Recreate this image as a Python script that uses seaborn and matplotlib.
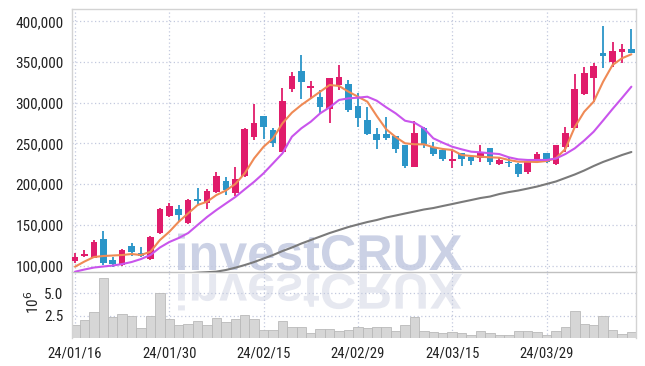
import numpy as np
import pandas as pd
import matplotlib
matplotlib.use("Agg")
import matplotlib.pyplot as plt
import seaborn as sns
from matplotlib import font_manager
from matplotlib.textpath import TextPath
from matplotlib.patches import PathPatch
from matplotlib.font_manager import FontProperties
from matplotlib.transforms import Affine2D

# ---------------- data ----------------
tick_labels = ["24/01/16", "24/01/30", "24/02/15", "24/02/29", "24/03/15", "24/03/29"]
tick_pos = [0, 10, 20, 30, 40, 50]

opens = [106000, 112200, 109700, 132700, 106900, 100800, 124100, 115100, 108100, 140400,
         161300, 169100, 151900, 180300, 176500, 190800, 203900, 188800, 210000, 258300,
         283700, 266500, 239900, 317200, 339000, 318500, 306700, 292000, 321800, 322600,
         296000, 278800, 261300, 261300, 259100, 248100, 221500, 269300, 246000, 241900,
         228500, 237900, 233800, 231800, 244800, 224400, 227600, 224800, 215300, 230900,
         237900, 225000, 245200, 269300, 310400, 330000, 360700, 349700, 362700, 366000]
highs = [115800, 119000, 131400, 142500, 110200, 120000, 127400, 123200, 136300, 170400,
         176500, 174400, 181400, 194900, 193700, 215300, 208400, 221500, 268600, 298400,
         284000, 268600, 318500, 338100, 358600, 326700, 315600, 330000, 346300, 327900,
         312300, 295100, 268600, 282000, 259100, 248100, 277900, 270600, 252100, 242800,
         242800, 238600, 234600, 248100, 244800, 231800, 231800, 225600, 229700, 239900,
         238600, 248100, 270600, 334900, 344300, 349200, 394600, 374200, 371800, 390200]
lows = [102800, 110200, 109000, 100800, 98700, 100000, 111800, 110200, 106900, 138800,
        160000, 153800, 151100, 174400, 169100, 188800, 186700, 185500, 209200, 254300,
        255100, 246000, 239900, 313500, 304200, 304200, 287000, 274700, 315600, 289000,
        269800, 260400, 242800, 254300, 237800, 220200, 221500, 244000, 234600, 228800,
        219600, 222300, 223600, 227600, 223600, 223600, 221500, 208400, 212500, 226400,
        225600, 224000, 240000, 268600, 309500, 300500, 342300, 344300, 348400, 361500]
closes = [110200, 113000, 129400, 103600, 102000, 119200, 117100, 111800, 134800, 169100,
          173200, 162100, 180600, 179400, 191200, 210000, 192800, 206000, 267700, 274700,
          270600, 251000, 302100, 332800, 325800, 320500, 295100, 330000, 331200, 291100,
          280900, 261300, 254300, 256300, 242800, 222300, 263200, 248900, 237000, 230900,
          230900, 230500, 228900, 239100, 226800, 229700, 225600, 212500, 226800, 237000,
          227600, 248100, 262500, 316900, 336100, 345100, 357800, 363500, 366000, 361500]

ma_short = [98650, 105000, 110560, 111790, 112400, 113000, 114250, 113000, 117070, 131400,
            141600, 153900, 164200, 174400, 178500, 186700, 192200, 200200, 213400, 231800,
            246000, 256300, 274800, 287800, 297200, 305400, 313600, 321800, 320600, 313600,
            307400, 301300, 283700, 267400, 257900, 250200, 248950, 248950, 245300, 243200,
            242000, 235800, 234600, 233700, 233000, 232500, 229700, 227600, 227600, 227200,
            228450, 231800, 243200, 270200, 289000, 301300, 325800, 346300, 354600, 359500]
ma_mid = [92500, 95200, 97600, 98900, 100100, 101900, 104400, 108100, 113000, 122200,
          129000, 133900, 140000, 149900, 159700, 168300, 176300, 184250, 193700, 203000,
          213400, 225600, 237900, 258300, 268600, 276700, 287000, 294400, 303400, 305400,
          306200, 307400, 302500, 294400, 287000, 277900, 275500, 268600, 256300, 250900,
          246000, 242800, 239900, 239100, 237900, 237000, 233000, 230500, 229700, 229700,
          229700, 231500, 237000, 244000, 253600, 264400, 278200, 292300, 305800, 319700]
ma_long = [np.nan] * 12 + [
    90500, 91300, 91900, 92600, 94600, 97400, 100700, 104400,
    108700, 113000, 117900, 122200, 127100, 131400, 135700, 140000, 143700, 147400,
    150500, 153500, 156000, 159100, 161500, 164000, 166400, 168900, 170700, 173200,
    175600, 178100, 180500, 183000, 184800, 187900, 190300, 192200, 194600, 197100,
    200200, 203300, 207600, 211900, 216800, 222300, 227300, 231500, 235800, 239500]

volume_m = [1.48, 2.03, 2.89, 6.67, 2.33, 2.67, 2.48, 1.11, 2.48, 5.00,
            2.11, 1.48, 1.59, 1.92, 1.48, 2.22, 1.81, 2.11, 2.59, 2.11,
            0.92, 0.92, 1.92, 1.22, 1.22, 0.62, 1.00, 1.00, 0.81, 0.92,
            1.22, 1.11, 1.29, 1.22, 0.81, 1.44, 2.33, 0.81, 0.70, 0.62,
            0.70, 0.55, 0.33, 0.81, 0.55, 0.33, 0.33, 0.81, 0.81, 0.70,
            0.33, 0.81, 1.22, 3.03, 1.59, 1.44, 2.48, 0.92, 0.48, 0.70]

# ---------------- style ----------------
sns.set_style("white")
ttf = font_manager.fontManager.ttflist
names = {f.name for f in ttf}
label_font = "Roboto"
stretch = "normal"
for cand in ["Liberation Sans Narrow", "Roboto Condensed", "Open Sans Condensed", "Noto Sans Condensed"]:
    if cand in names:
        label_font = cand
        break
else:
    if any(f.name == "DejaVu Sans" and f.stretch == "condensed" and f.weight in (400, "normal")
           for f in ttf):
        label_font = "DejaVu Sans"
        stretch = "condensed"
plt.rcParams["font.family"] = [label_font, "DejaVu Sans"]
plt.rcParams["font.stretch"] = stretch

UP = "#e01c6b"
DOWN = "#2b95c8"
GRID = "#c3c9de"
FRAME = "#d3d3d3"
TXT = "#222222"

idx = np.arange(len(opens))
df = pd.DataFrame({"i": idx, "open": opens, "high": highs, "low": lows, "close": closes,
                   "ma_s": ma_short, "ma_m": ma_mid, "ma_l": ma_long, "vol": volume_m})

fig = plt.figure(figsize=(6.45, 3.66), dpi=100)
fig.patch.set_facecolor("white")
ax = fig.add_axes([0.1112, 0.2560, 0.8744, 0.7194])
ax2 = fig.add_axes([0.1112, 0.0757, 0.8744, 0.1803], sharex=ax)
for a in (ax, ax2):
    a.set_facecolor("none")

# ---------------- watermark ----------------
fp = FontProperties(family="Liberation Sans", weight="bold")
tp = TextPath((0, 0), "investCRUX", size=50, prop=fp)
bb = tp.get_extents()
s = 284.0 / bb.width
x0_px, base_px = 178.0, 366 - 270.0
tr_main = Affine2D().translate(-bb.x0, 0).scale(s, s).translate(x0_px, base_px)
wm = PathPatch(tp, transform=tr_main, facecolor="#cbd1e5", edgecolor="none", zorder=-5)
fig.add_artist(wm)
tr_ref = Affine2D().translate(-bb.x0, 0).scale(s, -s).translate(x0_px, 366 - 274.0)
wm2 = PathPatch(tp, transform=tr_ref, facecolor="#e6e8f0", edgecolor="none", zorder=-6)
fig.add_artist(wm2)

# ---------------- candles ----------------
up = df["close"] >= df["open"]
colors = np.where(up, UP, DOWN)
ax.vlines(df["i"], df["low"], df["high"], colors=colors, linewidth=1.3, zorder=3)
body_h = np.maximum((df["close"] - df["open"]).abs(), 2200)
body_b = np.minimum(df["open"], df["close"])
ax.bar(df["i"], body_h, bottom=body_b, width=0.7, color=colors, linewidth=0, zorder=4)

sns.lineplot(data=df, x="i", y="ma_s", ax=ax, color="#ef8a55", linewidth=1.5, zorder=5)
sns.lineplot(data=df, x="i", y="ma_m", ax=ax, color="#c955ec", linewidth=1.5, zorder=5)
sns.lineplot(data=df, x="i", y="ma_l", ax=ax, color="#7a7a7a", linewidth=1.5, zorder=5)

ax.set_ylim(91772, 415104)
ax.set_xlim(-0.35, 59.46)
yt = [100000, 150000, 200000, 250000, 300000, 350000, 400000]
ax.set_yticks(yt)
ax.set_yticklabels([f"{v:,}" for v in yt])
ax.set_xlabel("")
ax.set_ylabel("")
ax.grid(True, color=GRID, linestyle=(0, (1, 2)), linewidth=0.9)
ax.set_axisbelow(True)
ax.tick_params(axis="x", labelbottom=False, length=0)
ax.tick_params(axis="y", length=0, pad=6, labelsize=11, labelcolor=TXT)
for sp in ("top", "left", "right"):
    ax.spines[sp].set_color(FRAME)
    ax.spines[sp].set_linewidth(1.0)
ax.spines["bottom"].set_color("#c0c0c0")
ax.spines["bottom"].set_linewidth(1.0)

# ---------------- volume ----------------
sns.barplot(data=df, x="i", y="vol", ax=ax2, native_scale=True, width=1.0,
            color="#d6d6d6", edgecolor="#b9b9b9", linewidth=0.6, saturation=1, zorder=2)
ax2.set_ylim(0, 7.33)
ax2.set_xlim(-0.35, 59.46)
ax2.set_yticks([2.5, 5.0])
ax2.set_yticklabels(["2.5", "5.0"])
ax2.set_xticks(tick_pos)
ax2.set_xticklabels(tick_labels)
ax2.set_xlabel("")
ax2.set_ylabel("10$^6$", fontsize=11, color=TXT, rotation=90)
ax2.yaxis.set_label_coords(-0.052, 0.55)
ax2.grid(True, color=GRID, linestyle=(0, (1, 2)), linewidth=0.9)
ax2.set_axisbelow(True)
ax2.tick_params(axis="x", length=0, pad=6, labelsize=10.5, labelcolor=TXT)
ax2.tick_params(axis="y", length=0, pad=6, labelsize=11, labelcolor=TXT)
ax2.spines["top"].set_visible(False)
ax2.spines["bottom"].set_visible(False)
for sp in ("left", "right"):
    ax2.spines[sp].set_color(FRAME)
    ax2.spines[sp].set_linewidth(1.0)

fig.savefig("out.png", dpi=100)
